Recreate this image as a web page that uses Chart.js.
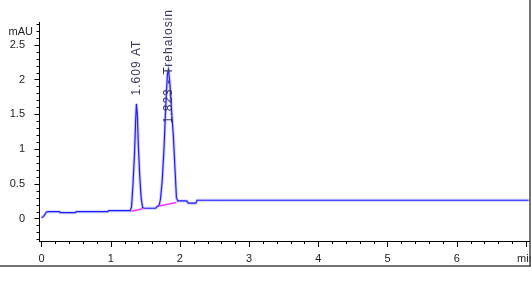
<!DOCTYPE html>
<html>
<head>
<meta charset="utf-8">
<script src="https://cdn.jsdelivr.net/npm/chart.js@4"></script>
<style>
  html, body { margin: 0; padding: 0; background: #fff; }
  #wrap { position: relative; width: 531px; height: 286px; }
</style>
</head>
<body>
<div id="wrap"><canvas id="chromatogram"></canvas></div>
<script>
// signal (retention time in min, absorbance in mAU)
const times = [0, 0.03, 0.07, 0.09, 0.26, 0.27, 0.49, 0.50, 0.96, 0.97,
  1.27, 1.28, 1.30, 1.32, 1.345, 1.36, 1.372, 1.385, 1.40, 1.42,
  1.44, 1.46, 1.48, 1.65, 1.67, 1.70, 1.72, 1.745, 1.77, 1.795,
  1.82, 1.835, 1.855, 1.88, 1.905, 1.93, 1.95, 1.97, 2.10, 2.12,
  2.23, 2.25, 7.04];
const mAU = [0.01, 0.03, 0.09, 0.098, 0.098, 0.083, 0.083, 0.098, 0.098, 0.112,
  0.112, 0.11, 0.16, 0.45, 0.95, 1.40, 1.65, 1.50, 1.05, 0.60,
  0.30, 0.16, 0.147, 0.147, 0.17, 0.19, 0.28, 0.55, 1.0, 1.6,
  2.08, 2.14, 1.95, 1.55, 1.2, 0.7, 0.3, 0.252, 0.252, 0.22,
  0.22, 0.262, 0.262];

// integration baselines
const base1Times = [1.30, 1.46];
const base1Values = [0.105, 0.14];
const base2Times = [1.70, 1.95];
const base2Values = [0.18, 0.23];

// peak annotations
const peakTimes = [1.372, 1.835];
const peakLabels = ["1.609 AT", "1.823 - Trehalosin"];
const peakLabelBase = [1.77, 1.37];

const xTickValues = [0, 1, 2, 3, 4, 5, 6, 7];
const xTickLabels = ["0", "1", "2", "3", "4", "5", "6", "min"];
const yTickValues = [0, 0.5, 1, 1.5, 2, 2.5];
const yTickLabels = ["0", "0.5", "1", "1.5", "2", "2.5"];

const pts = (xs, ys) => xs.map((x, i) => ({ x: x, y: ys[i] }));
const FONT = "'Liberation Sans Narrow', 'Liberation Sans', Arial, sans-serif";

const decorations = {
  id: "decorations",
  afterDraw(chart) {
    const ctx = chart.ctx;
    const xs = chart.scales.x;
    const ys = chart.scales.y;
    const area = chart.chartArea;
    ctx.save();
    ctx.strokeStyle = "#000";
    ctx.lineWidth = 1;
    // y ticks every 0.1, longer at 0.5
    for (let i = -3; i <= 28; i++) {
      const v = i / 10;
      const py = Math.round(ys.getPixelForValue(v)) + 0.5;
      const len = i % 5 === 0 ? 4.5 : 2.5;
      ctx.beginPath();
      ctx.moveTo(area.left, py);
      ctx.lineTo(area.left - len, py);
      ctx.stroke();
    }
    // x ticks every 0.2, longer at whole minutes
    for (let i = 0; i <= 35; i++) {
      const v = i / 5;
      const px = Math.round(xs.getPixelForValue(v)) + 0.5;
      const len = i % 5 === 0 ? 6 : 3;
      ctx.beginPath();
      ctx.moveTo(px, area.bottom);
      ctx.lineTo(px, area.bottom + len);
      ctx.stroke();
    }
    // unit label
    ctx.fillStyle = "#222";
    ctx.font = "11px " + FONT;
    ctx.textAlign = "right";
    ctx.textBaseline = "middle";
    ctx.fillText("mAU", 33, area.top + 10);
    // peak labels
    ctx.font = "12px 'Liberation Sans', Arial, sans-serif";
    ctx.letterSpacing = "1px";
    ctx.fillStyle = "#3a3a5a";
    ctx.textAlign = "left";
    peakTimes.forEach((t, i) => {
      const px = xs.getPixelForValue(t);
      const py = ys.getPixelForValue(peakLabelBase[i]);
      ctx.save();
      ctx.translate(px, py);
      ctx.rotate(-Math.PI / 2);
      ctx.fillText(peakLabels[i], 0, 0);
      ctx.restore();
    });
    ctx.letterSpacing = "0px";
    // window frame
    ctx.strokeStyle = "#444";
    ctx.lineWidth = 1.5;
    ctx.beginPath();
    ctx.moveTo(530, 0);
    ctx.lineTo(530, 266);
    ctx.moveTo(0, 266);
    ctx.lineTo(531, 266);
    ctx.stroke();
    ctx.restore();
  }
};

new Chart(document.getElementById("chromatogram"), {
  type: "line",
  data: {
    datasets: [
      {
        data: pts(base1Times, base1Values),
        borderColor: "#ff30ff",
        borderWidth: 1.5,
        pointRadius: 0,
        order: 0,
      },
      {
        data: pts(base2Times, base2Values),
        borderColor: "#ff30ff",
        borderWidth: 1.5,
        pointRadius: 0,
        order: 0,
      },
      {
        data: pts(times, mAU),
        borderColor: "#2020ff",
        borderWidth: 1.2,
        pointRadius: 0,
        tension: 0,
        order: 1,
      },
      {
        data: pts(times, mAU),
        borderColor: "rgba(170,170,255,0.6)",
        borderWidth: 3,
        pointRadius: 0,
        tension: 0,
        order: 2,
      },
    ],
  },
  options: {
    responsive: true,
    maintainAspectRatio: false,
    animation: false,
    layout: {
      padding: { top: 22, right: 2, bottom: 20, left: 0 },
    },
    plugins: {
      legend: { display: false },
      tooltip: { enabled: false },
    },
    scales: {
      x: {
        type: "linear",
        min: -0.036,
        max: 7.045,
        afterFit: (scale) => {
          scale.height = 25;
          scale.paddingLeft = 0;
          scale.paddingRight = 0;
        },
        afterBuildTicks: (scale) => {
          scale.ticks = xTickValues.map(v => ({ value: v }));
        },
        grid: { display: false },
        border: { display: true, color: "#000", width: 1 },
        ticks: {
          autoSkip: false,
          maxRotation: 0,
          padding: 3,
          color: "#222",
          font: { family: FONT, size: 11 },
          callback: (v) => xTickLabels[xTickValues.indexOf(v)],
        },
      },
      y: {
        min: -0.324,
        max: 2.827,
        afterFit: (scale) => {
          scale.width = 39;
          scale.paddingTop = 0;
          scale.paddingBottom = 0;
        },
        afterBuildTicks: (scale) => {
          scale.ticks = yTickValues.map(v => ({ value: v }));
        },
        grid: { display: false },
        border: { display: true, color: "#000", width: 1 },
        ticks: {
          autoSkip: false,
          padding: 6,
          color: "#222",
          font: { family: FONT, size: 11 },
          callback: (v) => yTickLabels[yTickValues.indexOf(v)],
        },
      },
    },
  },
  plugins: [decorations],
});
</script>
</body>
</html>
